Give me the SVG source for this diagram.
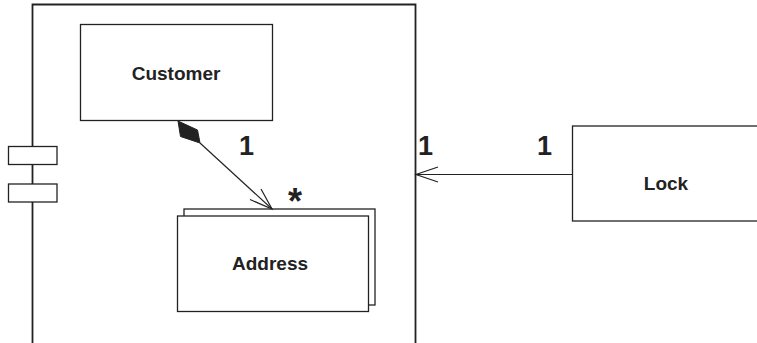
<svg xmlns="http://www.w3.org/2000/svg" width="757" height="343" viewBox="0 0 757 343">
<style>
.box{fill:#fff;stroke:#222;stroke-width:1.3}
.lbl{font-family:'Liberation Sans',Arial,Helvetica,sans-serif;font-weight:700;font-size:19px;fill:#222;text-anchor:middle}
.mult{font-family:'Liberation Sans',Arial,Helvetica,sans-serif;font-weight:700;font-size:27px;fill:#222}
.ln{fill:none;stroke:#222;stroke-width:1.2}
</style>
<rect width="757" height="343" fill="#fff"/>
<g id="component">
<path d="M32.5,346 V4.5 H415.5 V346" fill="none" stroke="#222" stroke-width="1.8"/>
<rect class="box" x="8.5" y="146.5" width="48.5" height="18"/>
<rect class="box" x="8.5" y="184" width="48.5" height="18"/>
</g>
<g id="customer">
<rect class="box" x="80.5" y="24.5" width="192" height="96"/>
<text class="lbl" x="176" y="80">Customer</text>
</g>
<g id="address">
<rect class="box" x="184" y="209" width="191" height="96"/>
<rect class="box" x="177.5" y="216" width="191" height="95.5"/>
<text class="lbl" x="270" y="270">Address</text>
</g>
<g id="lock">
<rect class="box" x="572.5" y="126" width="190" height="95"/>
<text class="lbl" x="666" y="190">Lock</text>
</g>
<g id="connectors">
<polygon points="178,121 197.5,130 200,143 180.5,136.5" fill="#222" stroke="#222" stroke-width="1"/>
<line class="ln" x1="200" y1="143" x2="272" y2="209"/>
<polyline class="ln" points="250,199.5 272,209 261,189"/>
<line class="ln" x1="572" y1="174.5" x2="416" y2="174.5"/>
<polyline class="ln" points="438,167 416,174.5 438,182"/>
</g>
<g id="labels">
<text class="mult" x="239" y="155">1</text>
<text class="mult" x="288" y="214" style="font-size:36px">*</text>
<text class="mult" x="418" y="155">1</text>
<text class="mult" x="537" y="155">1</text>
</g>
</svg>
